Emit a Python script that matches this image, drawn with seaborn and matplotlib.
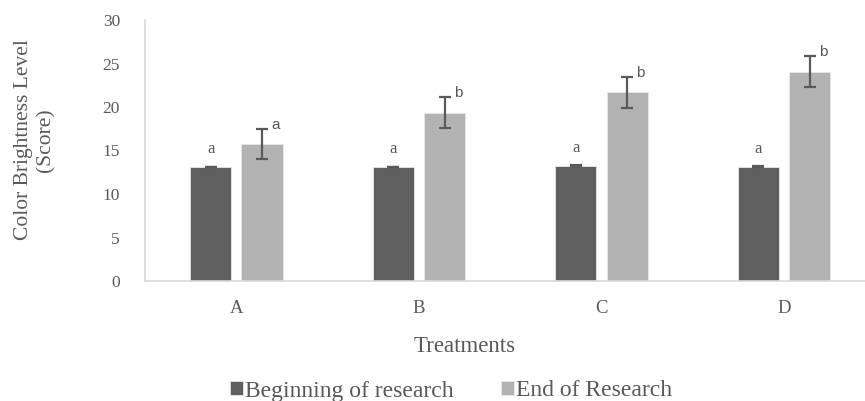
import numpy as np
import pandas as pd
import matplotlib
matplotlib.use("Agg")
import matplotlib.pyplot as plt
import seaborn as sns

# Colour brightness scores per treatment
treatments = ["A", "B", "C", "D"]
stages = ["Beginning of research", "End of Research"]
begin_mean = [13.1, 13.1, 13.25, 13.15]
begin_err = [0.05, 0.05, 0.05, 0.05]
end_mean = [15.75, 19.35, 21.7, 24.05]
end_err = [1.75, 1.75, 1.8, 1.8]
begin_letters = ["a", "a", "a", "a"]
end_letters = ["a", "b", "b", "b"]

df = pd.DataFrame({
    "Treatment": treatments * 2,
    "Stage": [stages[0]] * 4 + [stages[1]] * 4,
    "Score": begin_mean + end_mean,
    "Err": begin_err + end_err,
    "Letter": begin_letters + end_letters,
})

sns.set_theme(style="white")
plt.rcParams["font.family"] = ["Liberation Serif", "DejaVu Serif"]

W, H = 865, 401
fig = plt.figure(figsize=(W / 100, H / 100), dpi=100)
ax = fig.add_axes([145 / W, (H - 281) / H, (865 - 145) / W, 261 / H])

dark, light = "#5f5f5f", "#b3b3b3"
sns.barplot(data=df, x="Treatment", y="Score", hue="Stage", order=treatments,
            hue_order=stages, palette=[dark, light], width=0.563, gap=0.2,
            errorbar=None, edgecolor="#e8e8e8", linewidth=0.6, ax=ax, legend=True)

# error bars and significance letters on top of each bar
grey = "#595959"
for container, stage in zip(ax.containers, stages):
    sub = df[df["Stage"] == stage].set_index("Treatment").loc[treatments]
    xs = np.array([p.get_x() + p.get_width() / 2 for p in container.patches])
    ys = sub["Score"].to_numpy()
    es = sub["Err"].to_numpy()
    ax.errorbar(xs, ys, yerr=es, fmt="none", ecolor=grey, elinewidth=1.6,
                capsize=4.5, capthick=1.6, zorder=5)
    for x, y, e, let in zip(xs, ys, es, sub["Letter"]):
        if stage == stages[0]:
            ax.text(x, y + 1.1, let, ha="center", va="bottom", fontsize=12,
                    color=grey)
        else:
            ax.text(x + 0.05, y + e - 0.35, let, ha="left", va="bottom",
                    fontsize=11, color=grey, family="Liberation Sans")

ax.set_ylim(0, 30)
ax.set_yticks(range(0, 31, 5))
ax.set_xlim(-0.5, 3.5 - 10.5 / 183)
for s in ["top", "right"]:
    ax.spines[s].set_visible(False)
for s in ["left", "bottom"]:
    ax.spines[s].set_color("#d9d9d9")
    ax.spines[s].set_linewidth(1.2)
ax.tick_params(axis="y", length=0, pad=18, labelsize=12.5, labelcolor=grey)
ax.tick_params(axis="x", length=0, pad=14, labelsize=13.5, labelcolor=grey)
ax.set_xlabel("")
ax.set_ylabel("")

fig.text(465 / W, 1 - 347 / H, "Treatments", ha="center", va="center",
         fontsize=16.5, color=grey)
fig.text(35 / W, 1 - 140 / H, "Color Brightness Level\n(Score)", ha="center",
         va="center", rotation=90, fontsize=15.5, color=grey,
         linespacing=1.2, multialignment="center")

handles, labels = ax.get_legend_handles_labels()
ax.get_legend().remove()
fig.legend(handles, labels, loc="center", bbox_to_anchor=(451 / W, 1 - 391 / H),
           ncol=2, frameon=False, fontsize=17, labelcolor=grey,
           handlelength=0.55, handleheight=0.55, handletextpad=0.1,
           columnspacing=2.0, borderpad=0, borderaxespad=0)

fig.savefig("out.png", dpi=100)
